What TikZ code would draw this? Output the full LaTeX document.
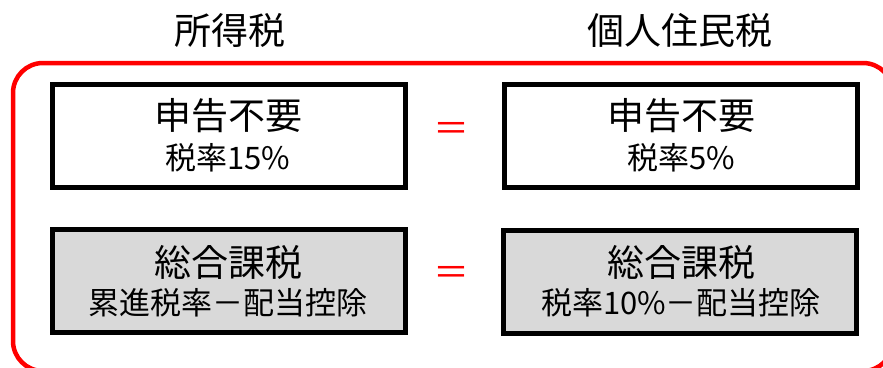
\documentclass[tikz,border=0pt]{standalone}
\usepackage{fontspec}
\setmainfont{Noto Sans CJK JP}
\begin{document}
\begin{tikzpicture}[x=1pt,y=-1pt,
  box/.style={draw=black,line width=5pt,minimum width=353pt,minimum height=103pt,inner sep=0pt},
  graybox/.style={box,fill=boxgray},
  big/.style={font=\fontsize{37}{44}\selectfont,inner sep=0pt},
  small/.style={font=\fontsize{31}{38}\selectfont,inner sep=0pt},
  eq/.style={text=red,font=\fontsize{36}{40}\selectfont,inner sep=0pt}]
\definecolor{boxgray}{HTML}{D9D9D9}
\useasboundingbox (0,0) rectangle (883,367);
\begin{scope}
\clip (0,0) rectangle (883,367);
\draw[red,line width=4.5pt,rounded corners=30pt] (13,63) rectangle (893,371);
\end{scope}
\node[big] (h1) at (230,30) {所得税};
\node[big] (h2) at (680,30) {個人住民税};
\node[box] (b1) at (228.5,135.5) {};
\node[box] (b2) at (681,135.5) {};
\node[graybox] (b3) at (228.5,281) {};
\node[graybox] (b4) at (680,281.5) {};
\node[big] (t1a) at (228,116) {申告不要};
\node[small] (t1b) at (228,158) {税率15\%};
\node[big] (t2a) at (681,116) {申告不要};
\node[small] (t2b) at (681,158) {税率5\%};
\node[big] (t3a) at (228,262) {総合課税};
\node[small] (t3b) at (228,303) {累進税率－配当控除};
\node[big] (t4a) at (681,262) {総合課税};
\node[small] (t4b) at (681,303) {税率10\%－配当控除};
\node[eq] (e1) at (451,132) {＝};
\node[eq] (e2) at (451,276) {＝};
\end{tikzpicture}
\end{document}
